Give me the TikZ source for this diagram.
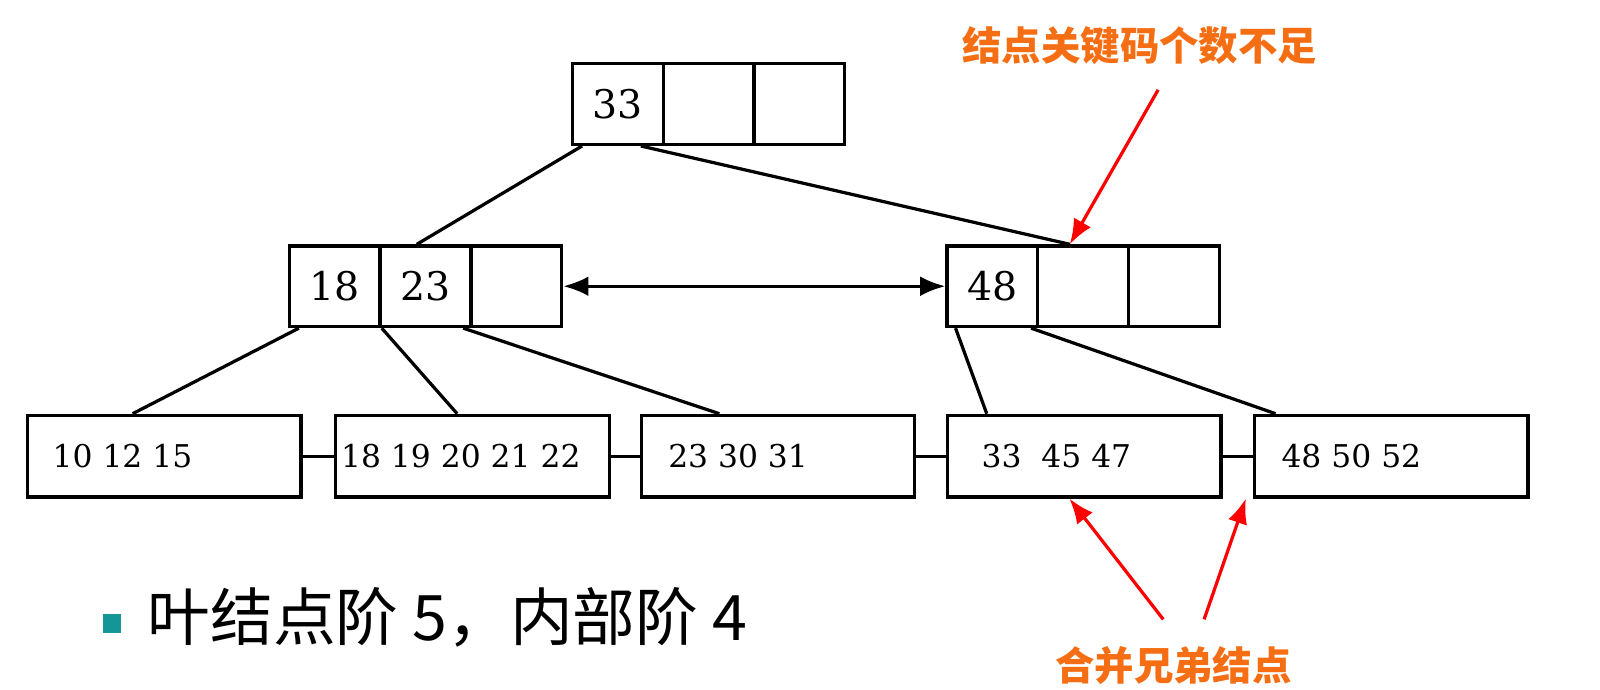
\documentclass[tikz,border=0pt]{standalone}
\usepackage{fontspec}
\setmainfont{DejaVu Serif}
\newfontfamily\cjk{Noto Sans CJK SC}
\usetikzlibrary{positioning,arrows.meta}
\definecolor{warnorange}{RGB}{245,110,20}
\definecolor{bulletteal}{RGB}{20,150,150}
\begin{document}
\begin{tikzpicture}[x=0.02cm, y=-0.02cm, line width=1.8pt,
  cell/.style={draw, minimum width=1.78cm, minimum height=1.58cm, inner sep=0pt, font=\fontsize{22}{22}\selectfont},
  leaf/.style={draw, minimum width=5.36cm, minimum height=1.6cm, inner sep=0pt},
  leaftext/.style={anchor=west, inner sep=0pt, font=\fontsize{17.5}{17.5}\selectfont},
  redarrow/.style={red, line width=1.8pt, -{Latex[length=14pt,width=11pt]}},
  note/.style={text=warnorange, font=\cjk\bfseries\fontsize{22}{22}\selectfont}]
  \useasboundingbox (0,0) rectangle (1568,676);

  % root
  \node [cell] (r1) at (605.5,102) {33};
  \node [cell, right=-1.8pt of r1] (r2) {};
  \node [cell, right=-1.8pt of r2] (r3) {};

  % inner level
  \node [cell] (a1) at (328,280.5) {18};
  \node [cell, right=-1.8pt of a1] (a2) {23};
  \node [cell, right=-1.8pt of a2] (a3) {};
  \node [cell] (b1) at (972.5,280.5) {48};
  \node [cell, right=-1.8pt of b1] (b2) {};
  \node [cell, right=-1.8pt of b2] (b3) {};

  % leaves
  \node [leaf] (l1) at (161,447) {};
  \node [leaf] (l2) at (463,447) {};
  \node [leaf] (l3) at (762.5,447) {};
  \node [leaf] (l4) at (1062.5,447) {};
  \node [leaf] (l5) at (1363.5,447) {};
  \node [leaftext, right=14pt of l1.west] {10 12 15};
  \node [leaftext, right=3pt of l2.west] {18 19 20 21 22};
  \node [leaftext, right=15pt of l3.west] {23 30 31};
  \node [leaftext, right=19pt of l4.west] {33\ \ 45 47};
  \node [leaftext, right=15pt of l5.west] {48 50 52};

  \draw (l1.east) -- (l2.west);
  \draw (l2.east) -- (l3.west);
  \draw (l3.east) -- (l4.west);
  \draw (l4.east) -- (l5.west);

  % tree edges
  \draw ([shift={(11,0)}]r1.south west) -- ([shift={(-8.5,0)}]a2.north);
  \draw ([shift={(22.5,0)}]r1.south) -- ([shift={(33,0)}]b2.north west);
  \draw ([shift={(11,0)}]a1.south west) -- ([shift={(-31,0)}]l1.north);
  \draw (a1.south east) -- ([shift={(-15,0)}]l2.north);
  \draw ([shift={(-6,0)}]a3.south west) -- ([shift={(-57.5,0)}]l3.north);
  \draw ([shift={(10,0)}]b1.south west) -- ([shift={(-95.5,0)}]l4.north);
  \draw ([shift={(-5,0)}]b2.south west) -- ([shift={(-113.5,0)}]l5.north);
  \draw [{Latex[length=14pt,width=11pt]}-{Latex[length=14pt,width=11pt]}] (a3.east) -- (b1.west);

  % notes
  \node [note] (n1) at (1117,45) {结点关键码个数不足};
  \node [note] (n2) at (1150,652) {合并兄弟结点};
  \coordinate (t1) at (1135,88);
  \coordinate (t2) at (1140,607);
  \coordinate (t3) at (1180,607);
  \draw [redarrow] (t1) -- ([shift={(33,0)}]b2.north west);
  \draw [redarrow] (t2) -- ([shift={(-14.5,0)}]l4.south);
  \draw [redarrow] (t3) -- ([shift={(-7,0)}]l5.south west);

  % caption
  \node [fill=bulletteal, minimum size=0.36cm, inner sep=0pt] (bullet) at (110,611) {};
  \node [anchor=west, inner sep=0pt, font=\cjk\fontsize{35}{35}\selectfont] (cap) at (143,605) {叶结点阶 5，内部阶 4};
\end{tikzpicture}
\end{document}
